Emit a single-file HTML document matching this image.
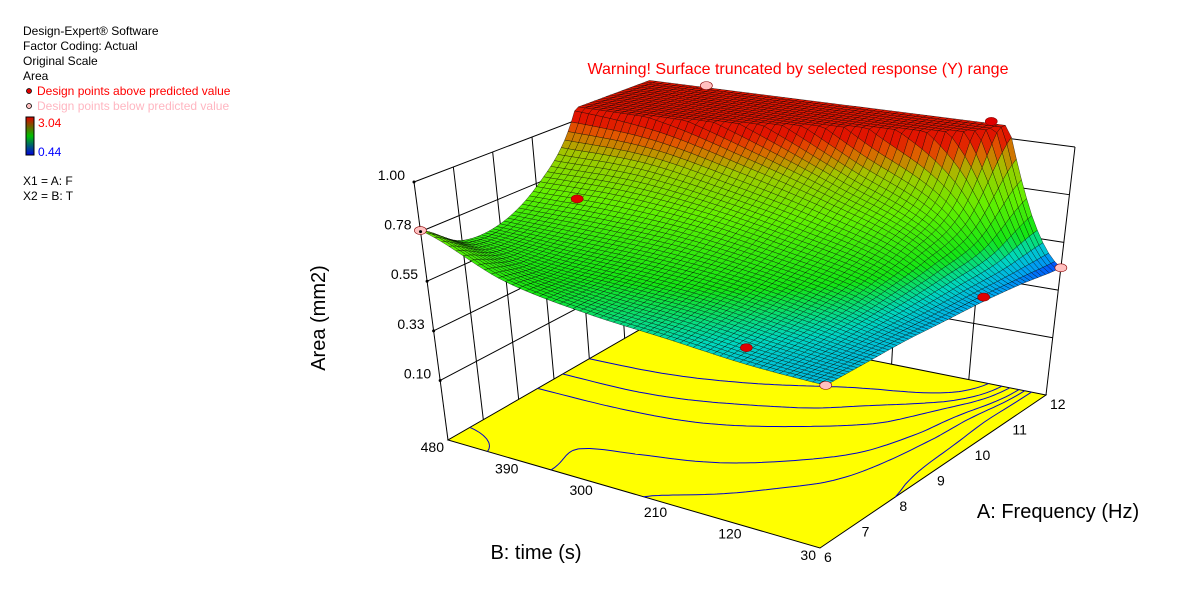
<!DOCTYPE html>
<html><head><meta charset="utf-8"><style>
html,body{margin:0;padding:0;background:#fff;}
svg{display:block;font-family:"Liberation Sans",Arial,sans-serif;}
</style></head><body>
<svg id="chart" width="1204" height="592" viewBox="0 0 1204 592">
<g id="legend" font-size="12">
<text x="23" y="35" fill="#000">Design-Expert® Software</text>
<text x="23" y="50" fill="#000">Factor Coding: Actual</text>
<text x="23" y="65" fill="#000">Original Scale</text>
<text x="23" y="80" fill="#000">Area</text>
<circle cx="29" cy="91" r="2.5" fill="#e00000" stroke="#000" stroke-width="0.8"/>
<text x="37" y="95" fill="#ff0000">Design points above predicted value</text>
<circle cx="29" cy="106" r="2.5" fill="#ffc0c0" stroke="#000" stroke-width="0.8"/>
<text x="37" y="110" fill="#ffb6c1">Design points below predicted value</text>
<defs><linearGradient id="cb" x1="0" y1="0" x2="0" y2="1"><stop offset="0" stop-color="#e00000"/><stop offset="0.5" stop-color="#00c000"/><stop offset="1" stop-color="#0000e0"/></linearGradient></defs>
<rect x="26" y="117" width="8" height="38" fill="url(#cb)" stroke="#000" stroke-width="1"/>
<text x="38" y="127" fill="#ff0000">3.04</text>
<text x="38" y="156" fill="#0000ff">0.44</text>
<text x="23" y="185" fill="#000">X1 = A: F</text>
<text x="23" y="200" fill="#000">X2 = B: T</text>
</g>
<text x="798" y="74" font-size="16" fill="#ff0000" text-anchor="middle">Warning! Surface truncated by selected response (Y) range</text>
<g id="walls"></g>
<g id="floor"></g>
<g id="surface"></g>
<g id="points"></g>
<g id="labels"></g>
<text transform="translate(325,318) rotate(-90)" font-size="20" text-anchor="middle" fill="#000">Area (mm2)</text>
<text x="536" y="559" font-size="20" text-anchor="middle" fill="#000">B: time (s)</text>
<text x="1058" y="518" font-size="20" text-anchor="middle" fill="#000">A: Frequency (Hz)</text>
</svg>
<script>
const aTicks = [6,7,8,9,10,11,12];
const bTicks = [480,390,300,210,120,30];
const zTicks = [0.10,0.325,0.55,0.775,1.00];
const zTickLabels = ["0.10","0.33","0.55","0.78","1.00"];
// surface area values on grid: rows B = 30..480 ; cols A = 6..12
const gridB = [30,120,210,300,390,480];
const gridA = [6,7,8,9,10,11,12];
const rowB30  = [0.50,0.50,0.50,0.49,0.48,0.46,0.43];
const rowB120 = [0.51,0.53,0.56,0.60,0.66,0.78,1.30];
const rowB210 = [0.54,0.57,0.61,0.67,0.78,1.00,2.00];
const rowB300 = [0.57,0.59,0.64,0.73,0.88,1.25,2.40];
const rowB390 = [0.63,0.61,0.65,0.76,0.97,1.50,2.70];
const rowB480 = [0.78,0.66,0.66,0.76,1.00,1.80,3.00];
const contourLevels = [0.5,0.55,0.6,0.7,0.8,1.0];
const ptA = [6,10,12,12,12,10,6,6];
const ptB = [480,480,420,120,30,30,120,30];
const ptY = [0.78,0.62,1.07,1.07,0.43,0.5,0.58,0.5];
const ptAbove = [0,1,0,1,0,1,1,0];

const NS='http://www.w3.org/2000/svg';
const A0=6,A1=12,B0=30,B1=480,ZF=-0.17,ZT=1.0,ZCLIP=1.06;
const F={f:[820,548],r:[1046,395],l:[448,440],b:[660,318]};
const T={f:[830,264],r:[1075,147],l:[414,182],b:[650,92]};
function bil(Q,u,v){
  const x=(1-u)*(1-v)*Q.f[0]+u*(1-v)*Q.r[0]+(1-u)*v*Q.l[0]+u*v*Q.b[0];
  const y=(1-u)*(1-v)*Q.f[1]+u*(1-v)*Q.r[1]+(1-u)*v*Q.l[1]+u*v*Q.b[1];
  return [x,y];}
function proj(A,B,z){
  const u=(A-A0)/(A1-A0),v=(B-B0)/(B1-B0),w=(z-ZF)/(ZT-ZF);
  const p=bil(F,u,v),q=bil(T,u,v);
  return [p[0]+w*(q[0]-p[0]),p[1]+w*(q[1]-p[1])];}
const rows=[rowB30,rowB120,rowB210,rowB300,rowB390,rowB480];
function cr(arr,t){
  const n=arr.length;let i=Math.floor(t);if(i>=n-1)i=n-2;if(i<0)i=0;const f=t-i;
  const p0=arr[Math.max(i-1,0)],p1=arr[i],p2=arr[i+1],p3=arr[Math.min(i+2,n-1)];
  return 0.5*((2*p1)+(-p0+p2)*f+(2*p0-5*p1+4*p2-p3)*f*f+(-p0+3*p1-3*p2+p3)*f*f*f);}
function area(A,B){
  const ta=(A-gridA[0])/(gridA[1]-gridA[0]);
  const tb=(B-gridB[0])/(gridB[1]-gridB[0]);
  const col=rows.map(r=>cr(r.map(v=>Math.log(v)),ta));
  return Math.exp(cr(col,tb));}
function mk(tag,parent,attrs){const e=document.createElementNS(NS,tag);for(const k in attrs)e.setAttribute(k,attrs[k]);parent.appendChild(e);return e;}
const pt=p=>p[0].toFixed(1)+','+p[1].toFixed(1);

const walls=document.getElementById('walls');
function line(g,p,q,name){const e=mk('line',g,{x1:p[0],y1:p[1],x2:q[0],y2:q[1],stroke:'#000','stroke-width':1});

return e;}
zTicks.forEach(z=>{line(walls,proj(A0,B1,z),proj(A1,B1,z),'left-wall-gridline');line(walls,proj(A1,B1,z),proj(A1,B0,z),'right-wall-gridline');});
aTicks.forEach(A=>line(walls,proj(A,B1,ZF),proj(A,B1,ZT),'left-wall-vertical'));
bTicks.forEach(B=>line(walls,proj(A1,B,ZF),proj(A1,B,ZT),'right-wall-vertical'));

const floor=document.getElementById('floor');
const fp=mk('polygon',floor,{points:[proj(A0,B0,ZF),proj(A1,B0,ZF),proj(A1,B1,ZF),proj(A0,B1,ZF)].map(pt).join(' '),fill:'#ffff00',stroke:'#000','stroke-width':1});


const N=60;
const Ai=i=>A0+(A1-A0)*i/N, Bj=j=>B0+(B1-B0)*j/N;
const grid=[];
for(let i=0;i<=N;i++){grid.push([]);for(let j=0;j<=N;j++)grid[i].push(area(Ai(i),Bj(j)));}
contourLevels.forEach(L=>{
  let d='';
  for(let i=0;i<N;i++)for(let j=0;j<N;j++){
    const c=[[i,j],[i+1,j],[i+1,j+1],[i,j+1]];const pts=[];
    for(let k=0;k<4;k++){const p=c[k],q=c[(k+1)%4];const vp=grid[p[0]][p[1]],vq=grid[q[0]][q[1]];
      if((vp<L)!==(vq<L)){const t=(L-vp)/(vq-vp);pts.push(proj(Ai(p[0]+t*(q[0]-p[0])),Bj(p[1]+t*(q[1]-p[1])),ZF));}}
    if(pts.length>=2)d+='M'+pt(pts[0])+'L'+pt(pts[1]);
    if(pts.length===4)d+='M'+pt(pts[2])+'L'+pt(pts[3]);
  }
  const e=mk('path',floor,{d:d,fill:'none',stroke:'#0000cc','stroke-width':1});
  
  
});

const stops=[[0.43,[0,60,255]],[0.48,[0,170,240]],[0.53,[0,215,190]],[0.6,[20,230,20]],[0.75,[100,240,0]],[0.88,[160,200,0]],[0.97,[225,90,0]],[1.02,[225,20,0]]];
function color(z){
  if(z<=stops[0][0])return 'rgb(0,60,255)';
  for(let k=1;k<stops.length;k++){if(z<=stops[k][0]){const s0=stops[k-1],s1=stops[k];const f=(z-s0[0])/(s1[0]-s0[0]);
    return 'rgb('+s0[1].map((c,m)=>Math.round(c+f*(s1[1][m]-c))).join(',')+')';}}return 'rgb(225,20,0)';}
const surf=document.getElementById('surface');
const cells=[];
for(let i=0;i<N;i++)for(let j=0;j<N;j++)cells.push([i,j]);
cells.sort((p,q)=>(q[0]+q[1])-(p[0]+p[1]));
const frag=document.createDocumentFragment();
cells.forEach(([i,j])=>{
  const zs=[grid[i][j],grid[i+1][j],grid[i+1][j+1],grid[i][j+1]].map(z=>Math.min(z,ZCLIP));
  const cs=[[i,j],[i+1,j],[i+1,j+1],[i,j+1]];
  const poly=cs.map((c,k)=>proj(Ai(c[0]),Bj(c[1]),zs[k]));
  const zm=(zs[0]+zs[1]+zs[2]+zs[3])/4;
  const e=document.createElementNS(NS,'polygon');
  e.setAttribute('points',poly.map(pt).join(' '));
  e.setAttribute('fill',color(zm));
  e.setAttribute('stroke','rgba(0,0,0,0.75)');
  e.setAttribute('stroke-width','0.45');
  
  
  frag.appendChild(e);
});
surf.appendChild(frag);

const pts=document.getElementById('points');
ptA.forEach((A,k)=>{const p=proj(A,ptB[k],Math.min(ptY[k],1.08));
  const e=mk('ellipse',pts,{cx:p[0],cy:p[1],rx:6,ry:4,fill:ptAbove[k]?'#e00000':'#ffc0c0',stroke:'#800','stroke-width':0.6});
  
  
});

const lab=document.getElementById('labels');
function txt(x,y,s,anchor,name){const e=mk('text',lab,{x:x,y:y,'font-size':14,fill:'#000','text-anchor':anchor});e.textContent=s;

}
zTicks.forEach((z,i)=>{const p=proj(A0,B1,z);txt(p[0]-9,p[1]-2,zTickLabels[i],'end','z-tick-label');
  const d=mk('circle',lab,{cx:p[0],cy:p[1],r:1.5,fill:'#000'});});
bTicks.forEach(B=>{const p=proj(A0,B,ZF);txt(p[0]-4,p[1]+12,String(B),'end','b-tick-label');});
aTicks.forEach(A=>{const p=proj(A,B0,ZF);txt(p[0]+4,p[1]+14,String(A),'start','a-tick-label');});
</script>
</body></html>
